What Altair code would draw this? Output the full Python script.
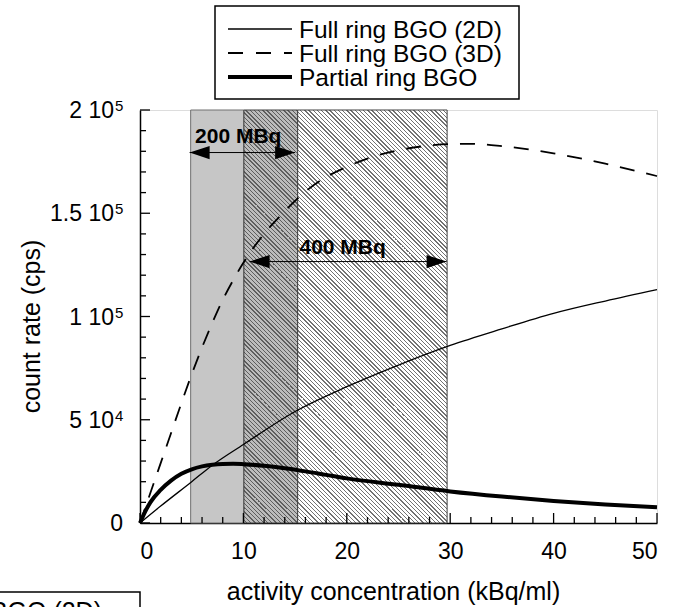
import math
import altair as alt
import pandas as pd

# ---------------- data ----------------
series_names = ["Full ring BGO (2D)", "Full ring BGO (3D)", "Partial ring BGO"]

x_2d = [0, 2, 5, 7, 10, 15, 20, 25, 30, 35, 40, 45, 50]
y_2d = [0, 8200, 20000, 28000, 38000, 54000, 66000, 76500, 86000, 94000, 101500, 107500, 113000]

x_3d = [0, 1, 2, 3, 4, 5, 6, 7, 8, 9, 10, 12, 14, 16, 18, 20, 22, 25, 28, 30, 32, 35, 40, 45, 50]
y_3d = [0, 14500, 29000, 43500, 58000, 72000, 85000, 97000, 108000, 117500, 126000, 140000,
        151000, 160500, 167500, 172500, 176500, 180500, 182800, 183500, 183600, 182500,
        179000, 174000, 168000]

x_pr = [0, 0.5, 1, 2, 3, 4, 5, 6, 7, 8, 9, 10, 12, 14, 16, 18, 20, 25, 30, 35, 40, 45, 50]
y_pr = [0, 5500, 10000, 16000, 20500, 23800, 26000, 27400, 28200, 28600, 28700, 28500, 27700,
        26500, 25000, 23300, 21600, 18500, 15300, 12800, 10700, 9000, 7600]

band_200 = [4.9, 15.25]      # activity range for 200 MBq
band_400 = [10.05, 29.7]     # activity range for 400 MBq
arrow_200 = [4.8, 15.0, 179400]
arrow_400 = [10.6, 29.65, 126600]
label_200 = ["200 MBq", 9.5, 184000]
label_400 = ["400 MBq", 19.6, 130300]

x_major = [0, 10, 20, 30, 40, 50]
x_minor = [2, 4, 6, 8, 12, 14, 16, 18, 22, 24, 26, 28, 32, 34, 36, 38, 42, 44, 46, 48]
y_major = [0, 50000, 100000, 150000, 200000]
y_minor = [10000, 20000, 30000, 40000, 60000, 70000, 80000, 90000, 110000, 120000,
           130000, 140000, 160000, 170000, 180000, 190000]
y_mant = ["0", "5 10", "1 10", "1.5 10", "2 10"]
y_exp = ["", "4", "5", "5", "5"]

x_title = "activity concentration (kBq/ml)"
y_title = "count rate (cps)"

# ---------------- layout / style ----------------
W, H = 517, 413
FONT = "Liberation Sans"
XMAX, YMAX = 50, 200000

xs = alt.Scale(domain=[0, XMAX], nice=False, zero=False)
ys = alt.Scale(domain=[0, YMAX], nice=False, zero=False)
xaxis = alt.Axis(title=x_title, ticks=False, grid=False, domain=True, domainColor="black",
                 domainWidth=1.5, labelFontSize=23, labelPadding=17, labelColor="black",
                 values=x_major, titleFontSize=25, titleFontWeight="normal", titleColor="black",
                 titleBaseline="alphabetic", titleY=76, titleX=253, labelFont=FONT, titleFont=FONT)
yaxis = alt.Axis(title=y_title, ticks=False, grid=False, domain=True, domainColor="black",
                 domainWidth=1.5, labels=False, titleFontSize=25, titleFontWeight="normal",
                 titleColor="black", titleBaseline="alphabetic", titleX=-101, titleY=216,
                 titleAngle=270, titleFont=FONT)


def X(f, **kw):
    return alt.X(f, type="quantitative", scale=xs, axis=xaxis, **kw)


def Y(f, **kw):
    return alt.Y(f, type="quantitative", scale=ys, axis=yaxis, **kw)


def px(v):
    return v / XMAX * W


def hatch(x0v, x1v, bg, fg, period=4.2, lw=1.3):
    """Diagonal '\\' hatch as a linear gradient with hard stops."""
    x0 = px(x0v)
    w = px(x1v) - x0
    h = H
    d0 = x0 - h
    L = w + h
    k = (w + h) / (w * w + h * h)
    pts = []
    m0 = math.floor(d0 / period) - 1
    m1 = math.ceil((d0 + L) / period) + 1
    for m in range(m0, m1):
        a = (m * period - d0) / L
        b = (m * period + lw - d0) / L
        c = ((m + 1) * period - d0) / L
        pts += [(a, fg), (b, fg), (b, bg), (c, bg)]
    stops = []
    for off, col in pts:
        o = min(max(off, 0.0), 1.0)
        if off < 0 and stops and stops[-1][0] == 0:
            stops[-1] = (0.0, col)
            continue
        if o >= 1 and stops and stops[-1][0] >= 1:
            continue
        stops.append((o, col))
    gs = [alt.GradientStop(offset=o, color=c) for o, c in stops]
    return alt.LinearGradient(gradient="linear", x1=0, y1=1, x2=k * w, y2=1 - k * h, stops=gs)


one = pd.DataFrame({"a": [0]})

# ---------------- shaded ranges ----------------
cuts = sorted([band_200[0], band_400[0], band_200[1], band_400[1]])
rA = pd.DataFrame({"x0": [cuts[0]], "x1": [cuts[1]], "y0": [0], "y1": [YMAX]})
rAB = pd.DataFrame({"x0": [cuts[1]], "x1": [cuts[2]], "y0": [0], "y1": [YMAX]})
rB = pd.DataFrame({"x0": [cuts[2]], "x1": [cuts[3]], "y0": [0], "y1": [YMAX]})

layer_A = alt.Chart(rA).mark_rect(fill="#c6c6c6", stroke="#707070", strokeWidth=1).encode(
    x=X("x0"), x2="x1", y=Y("y0"), y2="y1")
layer_AB = alt.Chart(rAB).mark_rect(fill=hatch(cuts[1], cuts[2], "#bcbcbc", "#5e5e5e"),
                                    stroke="#404040", strokeWidth=1).encode(
    x=X("x0"), x2="x1", y=Y("y0"), y2="y1")
layer_B = alt.Chart(rB).mark_rect(fill=hatch(cuts[2], cuts[3], "#ffffff", "#727272"),
                                  stroke="#404040", strokeWidth=1).encode(
    x=X("x0"), x2="x1", y=Y("y0"), y2="y1")

# ---------------- curves ----------------
d2 = pd.DataFrame({"x": x_2d, "y": y_2d})
d3 = pd.DataFrame({"x": x_3d, "y": y_3d})
dp = pd.DataFrame({"x": x_pr, "y": y_pr})

line_2d = alt.Chart(d2).mark_line(color="black", strokeWidth=1.3, interpolate="monotone").encode(
    x=X("x"), y=Y("y"))
line_3d = alt.Chart(d3).mark_line(color="black", strokeWidth=1.8, strokeDash=[15, 12],
                                  interpolate="monotone").encode(x=X("x"), y=Y("y"))
line_pr = alt.Chart(dp).mark_line(color="black", strokeWidth=4, interpolate="monotone").encode(
    x=X("x"), y=Y("y"))

# ---------------- arrows & labels ----------------
arr = pd.DataFrame({"x1": [arrow_200[0], arrow_400[0]], "x2": [arrow_200[1], arrow_400[1]],
                    "y": [arrow_200[2], arrow_400[2]]})
arrow_lines = alt.Chart(arr).mark_rule(color="black", strokeWidth=1).encode(
    x=X("x1"), x2="x2", y=Y("y"))
left_heads = alt.Chart(arr).mark_point(shape="M0,0L1,-0.33L1,0.33Z", filled=True, size=1600,
                                       color="black", opacity=1, strokeWidth=0).encode(
    x=X("x1"), y=Y("y"))
right_heads = alt.Chart(arr).mark_point(shape="M0,0L-1,-0.33L-1,0.33Z", filled=True, size=1600,
                                        color="black", opacity=1, strokeWidth=0).encode(
    x=X("x2"), y=Y("y"))
labs = pd.DataFrame({"t": [label_200[0], label_400[0]], "x": [label_200[1], label_400[1]],
                     "y": [label_200[2], label_400[2]]})
label_layer = alt.Chart(labs).mark_text(font=FONT, fontSize=21, fontWeight="bold", color="black",
                                        align="center", baseline="alphabetic").encode(
    x=X("x"), y=Y("y"), text="t:N")

# ---------------- inward ticks ----------------
xt_major = alt.Chart(pd.DataFrame({"v": x_major})).mark_rule(color="black", strokeWidth=1.3).encode(
    x=X("v"), y=alt.value(H), y2=alt.value(H - 10))
xt_minor = alt.Chart(pd.DataFrame({"v": x_minor})).mark_rule(color="black", strokeWidth=1.3).encode(
    x=X("v"), y=alt.value(H), y2=alt.value(H - 6))
yt_major = alt.Chart(pd.DataFrame({"v": y_major})).mark_rule(color="black", strokeWidth=1.3).encode(
    y=Y("v"), x=alt.value(0), x2=alt.value(10))
yt_minor = alt.Chart(pd.DataFrame({"v": y_minor})).mark_rule(color="black", strokeWidth=1.3).encode(
    y=Y("v"), x=alt.value(0), x2=alt.value(6))

# ---------------- y tick labels with superscripts ----------------
ylab = pd.DataFrame({"v": y_major, "m": y_mant, "e": y_exp})
ylab_main = alt.Chart(ylab).transform_filter("datum.e != ''").mark_text(
    font=FONT, fontSize=23, color="black", align="right", baseline="alphabetic", dy=8).encode(
    y=Y("v"), x=alt.value(-26), text="m:N")
ylab_zero = alt.Chart(ylab).transform_filter("datum.e == ''").mark_text(
    font=FONT, fontSize=23, color="black", align="right", baseline="alphabetic", dy=8).encode(
    y=Y("v"), x=alt.value(-17), text="m:N")
ylab_exp = alt.Chart(ylab).transform_filter("datum.e != ''").mark_text(
    font=FONT, fontSize=15, color="black", align="left", baseline="alphabetic", dy=1).encode(
    y=Y("v"), x=alt.value(-25), text="e:N")

# ---------------- legend (drawn) ----------------
row_y = [-81, -57, -33]
leg_box = alt.Chart(one).mark_rect(fill="white", stroke="black", strokeWidth=1.5).encode(
    x=alt.value(75), x2=alt.value(379), y=alt.value(-104), y2=alt.value(-11))
leg_styles = [dict(strokeWidth=1.3), dict(strokeWidth=1.8, strokeDash=[15, 13]), dict(strokeWidth=4)]
leg_layers = [leg_box]
for i, name in enumerate(series_names):
    leg_layers.append(alt.Chart(one).mark_rule(color="black", **leg_styles[i]).encode(
        x=alt.value(88), x2=alt.value(152), y=alt.value(row_y[i])))
    leg_layers.append(alt.Chart(one).mark_text(text=name, font=FONT, fontSize=24.5, color="black",
                                               align="left", baseline="alphabetic").encode(
        x=alt.value(159), y=alt.value(row_y[i] + 8.5)))

# clipped copy of a legend at the lower left
frag_box = alt.Chart(one).mark_rect(fill="white", stroke="black", strokeWidth=1.5).encode(
    x=alt.value(-220), x2=alt.value(0), y=alt.value(482), y2=alt.value(540))
frag_text = alt.Chart(one).mark_text(text=series_names[0], font=FONT, fontSize=25, color="black",
                                     align="right", baseline="alphabetic").encode(
    x=alt.value(-38), y=alt.value(510))

chart = alt.layer(
    layer_A, layer_AB, layer_B,
    line_2d, line_3d, line_pr,
    arrow_lines, left_heads, right_heads, label_layer,
    xt_major, xt_minor, yt_major, yt_minor,
    ylab_main, ylab_zero, ylab_exp,
    *leg_layers, frag_box, frag_text,
).properties(
    width=W, height=H,
    padding={"left": 140, "top": 110, "right": 23, "bottom": 84},
    autosize=alt.AutoSizeParams(type="none"),
    background="white",
).configure_view(stroke=None).configure(font=FONT)

chart.save("out.html", embed_options={"renderer": "svg", "actions": False})
